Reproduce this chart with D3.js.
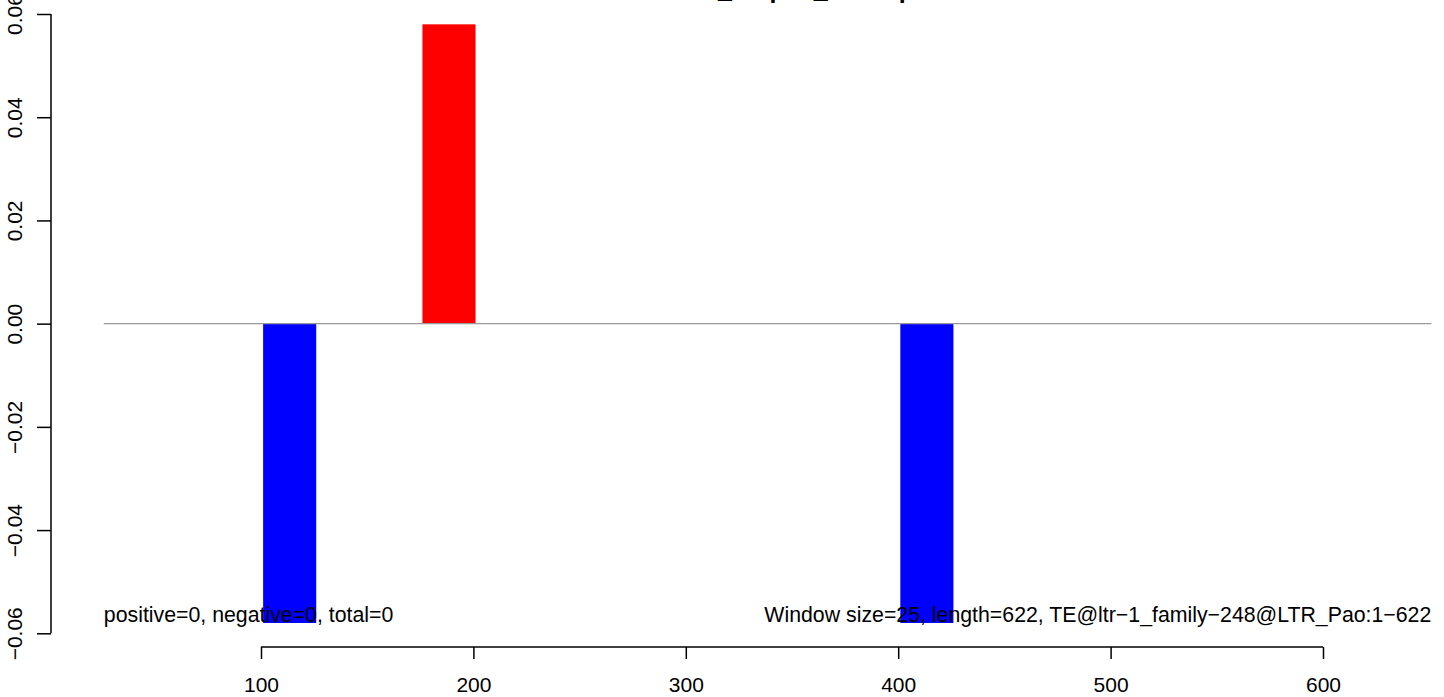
<!DOCTYPE html>
<html>
<head>
<meta charset="utf-8">
<script src="https://cdn.jsdelivr.net/npm/d3@7"></script>
<style>
  html, body { margin: 0; padding: 0; background: #fff; }
  svg { display: block; }
  text { font-family: "Liberation Sans", Arial, Helvetica, sans-serif; }
</style>
</head>
<body>
<script>
// ---- data ----
const windowStarts = [101, 176, 401];
const windowSize = 25;
const windowValues = [-0.058, 0.058, -0.058];
const xTicks = [100, 200, 300, 400, 500, 600];
const yTicks = [-0.06, -0.04, -0.02, 0.00, 0.02, 0.04, 0.06];
const zeroLineExtent = [26, 651];
const titleText = "LTR_netpos_senseplot";
const leftNote = "positive=0, negative=0, total=0";
const rightNote = "Window size=25, length=622, TE@ltr\u22121_family\u2212248@LTR_Pao:1\u2212622";

// ---- layout ----
const W = 1444, H = 697;
const FS = 21;
const NOTE_FS = 21.3;
const svg = d3.select("body").append("svg").attr("width", W).attr("height", H);

const x = d3.scaleLinear().domain([100, 600]).range([261, 1323]);
const y = d3.scaleLinear().domain([-0.06, 0.06]).range([633.3, 14]);

const fmtY = v => d3.format(".2f")(v).replace("-", "\u2212");

// bars
svg.append("g").selectAll("rect").data(windowStarts).join("rect")
  .attr("x", (d) => x(d))
  .attr("width", (d) => x(d + windowSize) - x(d))
  .attr("y", (d, i) => y(Math.max(0, windowValues[i])))
  .attr("height", (d, i) => Math.abs(y(windowValues[i]) - y(0)))
  .attr("fill", (d, i) => windowValues[i] >= 0 ? "#FF0000" : "#0000FF");

// zero line
svg.append("line")
  .attr("x1", x(zeroLineExtent[0])).attr("x2", x(zeroLineExtent[1]))
  .attr("y1", y(0)).attr("y2", y(0))
  .attr("stroke", "#999999").attr("stroke-width", 1.2);

// y axis
const yAxisX = 51;
const yg = svg.append("g").attr("transform", `translate(${yAxisX},0)`)
  .call(d3.axisLeft(y).tickValues(yTicks).tickSize(14).tickSizeOuter(0).tickFormat(fmtY));
yg.select(".domain").attr("stroke", "#000").attr("stroke-width", 1.5)
  .attr("d", `M0,${y(0.06)}V${y(-0.06)}`);
yg.selectAll(".tick line").attr("stroke", "#000").attr("stroke-width", 1.5);
yg.selectAll(".tick text")
  .attr("font-size", FS).attr("fill", "#000")
  .attr("text-anchor", "middle")
  .attr("x", 0).attr("y", 0).attr("dy", 0)
  .attr("transform", "translate(-29,0) rotate(-90)");

// x axis
const xAxisY = 647;
const xg = svg.append("g").attr("transform", `translate(0,${xAxisY})`)
  .call(d3.axisBottom(x).tickValues(xTicks).tickSize(12).tickSizeOuter(0).tickFormat(d3.format("d")));
xg.select(".domain").attr("stroke", "#000").attr("stroke-width", 1.5)
  .attr("d", `M${x(100)},0H${x(600)}`);
xg.selectAll(".tick line").attr("stroke", "#000").attr("stroke-width", 1.5);
xg.selectAll(".tick text")
  .attr("font-size", FS).attr("fill", "#000")
  .attr("y", 0).attr("dy", 0)
  .attr("transform", "translate(0,45)");

// notes
svg.append("text").attr("x", x(zeroLineExtent[0])).attr("y", 622)
  .attr("font-size", NOTE_FS).attr("fill", "#000").text(leftNote);
svg.append("text").attr("x", x(zeroLineExtent[1])).attr("y", 622)
  .attr("text-anchor", "end")
  .attr("font-size", NOTE_FS).attr("fill", "#000").text(rightNote);

// title (mostly clipped above the top edge, as in the reference)
const t = svg.append("text").attr("y", -2.5)
  .attr("font-size", 25).attr("font-weight", "bold").attr("fill", "#000")
  .text(titleText);
const pre = t.node().getSubStringLength(0, 3);
t.attr("x", 718 - pre);
</script>
</body>
</html>
